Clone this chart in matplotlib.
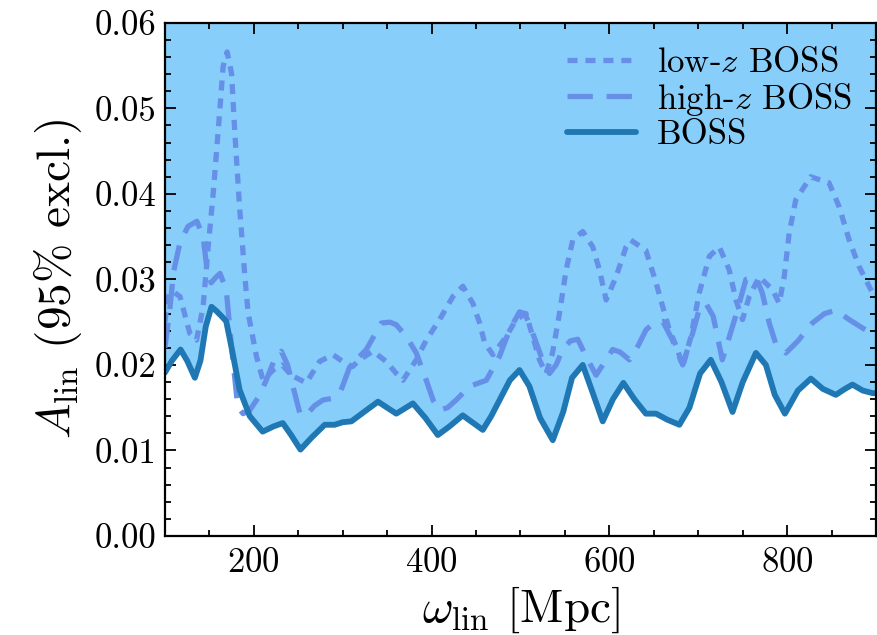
import matplotlib
matplotlib.use("Agg")
import matplotlib.pyplot as plt
from matplotlib.ticker import MultipleLocator

plt.rcParams['font.family'] = 'serif'
plt.rcParams['font.serif'] = ['cmr10']
plt.rcParams['mathtext.fontset'] = 'cm'
plt.rcParams['axes.unicode_minus'] = False
plt.rcParams['axes.formatter.use_mathtext'] = True

# BOSS (solid)
boss_x = [100, 108, 117.6, 125, 133.7, 140, 146, 152.4, 158, 163.7, 169, 176, 184, 195.5, 210, 222,
          232.6, 242, 252.5, 265, 279.8, 291, 300, 309.8, 326.6, 339.7, 350, 360.3, 379, 393, 407,
          420, 435, 457.6, 467, 476, 488, 498.9, 510, 522, 536.3, 548, 558, 570, 581, 592.5, 604,
          615.7, 628, 641, 652.5, 665, 678.7, 690, 702, 714, 726, 738.5, 750, 764.8, 776, 786,
          797.4, 812, 826.6, 840, 854.7, 865, 873.4, 885, 896, 900]
boss_y = [0.0191, 0.0205, 0.0218, 0.0205, 0.0185, 0.0205, 0.0245, 0.0268, 0.0263, 0.0257, 0.0251,
          0.0215, 0.0171, 0.0140, 0.0122, 0.0128, 0.0132, 0.0118, 0.0101, 0.0115, 0.0130, 0.0130,
          0.0133, 0.0134, 0.0147, 0.0157, 0.0150, 0.0143, 0.0155, 0.0138, 0.0118, 0.0128, 0.0141,
          0.0124, 0.0140, 0.0158, 0.0182, 0.0194, 0.0175, 0.0138, 0.0112, 0.0145, 0.0185, 0.0200,
          0.0168, 0.0134, 0.0160, 0.0179, 0.0160, 0.0143, 0.0143, 0.0136, 0.0130, 0.0150, 0.0190,
          0.0206, 0.0180, 0.0145, 0.0180, 0.0214, 0.0200, 0.0165, 0.0143, 0.0170, 0.0184, 0.0172,
          0.0165, 0.0172, 0.0177, 0.0170, 0.0167, 0.0167]

# high-z BOSS (dashed)
highz_x = [100, 105, 110, 117, 126, 136, 143, 147, 152, 157, 162, 169, 175, 182, 188, 195.5, 205,
           214, 222, 231, 238, 244, 251.7, 258, 268, 277.9, 289, 298, 308, 326.6, 343.5, 353, 360.3,
           371.6, 382.8, 394, 402, 409, 418, 427.7, 442.7, 461.5, 476.4, 487.6, 498.9, 505, 513.8,
           523.2, 532.6, 540, 547.5, 556, 564.4, 573.7, 585, 596.3, 603.7, 612, 622.5, 632, 641.2,
           651, 659.9, 671, 682.4, 693.6, 701, 708.5, 716.7, 727, 742, 753.6, 764.8, 772, 779.8,
           787, 798.5, 812, 828.3, 842, 854.7, 869.7, 888, 900]
highz_y = [0.0220, 0.0260, 0.0310, 0.0343, 0.0362, 0.0368, 0.0350, 0.0315, 0.0296, 0.0302, 0.0307,
           0.0288, 0.0221, 0.0151, 0.0143, 0.0147, 0.0162, 0.0182, 0.0203, 0.0216, 0.0200, 0.0175,
           0.0144, 0.0140, 0.0152, 0.0159, 0.0161, 0.0170, 0.0198, 0.0218, 0.0249, 0.0250, 0.0247,
           0.0233, 0.0214, 0.0182, 0.0158, 0.0147, 0.0150, 0.0159, 0.0175, 0.0182, 0.0210, 0.0241,
           0.0262, 0.0260, 0.0237, 0.0210, 0.0190, 0.0200, 0.0218, 0.0228, 0.0230, 0.0210, 0.0188,
           0.0206, 0.0218, 0.0215, 0.0206, 0.0222, 0.0241, 0.0250, 0.0251, 0.0229, 0.0200, 0.0237,
           0.0265, 0.0272, 0.0257, 0.0206, 0.0257, 0.0300, 0.0303, 0.0284, 0.0249, 0.0225, 0.0214,
           0.0228, 0.0249, 0.0260, 0.0264, 0.0253, 0.0241, 0.0239]

# low-z BOSS (dotted)
lowz_x = [100, 104, 110, 117, 128, 135.6, 143, 148.7, 154.3, 161.8, 165.5, 170, 175, 178.7, 184, 190,
          193.6, 203, 210.4, 221.7, 232, 242, 259, 274, 289, 300, 311, 319, 334, 349, 360.3, 367.8,
          382.8, 394, 409, 424, 435.2, 446.4, 454, 459.6, 468.9, 483.9, 495, 506.2, 513.8, 521.3,
          528.8, 536, 543.8, 551.3, 558.8, 570, 581.3, 588.8, 596.3, 607.5, 618.7, 624, 641, 652.5,
          660, 667.4, 676.8, 682.4, 691.7, 701, 712.4, 723.6, 734.8, 742.3, 749.7, 757.3, 768.5,
          783.5, 791, 796.6, 802.2, 809.6, 826.4, 847, 858.4, 869.7, 880.9, 896, 900]
lowz_y = [0.0250, 0.0284, 0.0285, 0.0280, 0.0237, 0.0229, 0.0268, 0.0338, 0.0400, 0.0498, 0.0549,
          0.0566, 0.0541, 0.0471, 0.0385, 0.0303, 0.0261, 0.0210, 0.0182, 0.0194, 0.0200, 0.0188,
          0.0179, 0.0204, 0.0212, 0.0204, 0.0198, 0.0206, 0.0216, 0.0204, 0.0190, 0.0182, 0.0206,
          0.0229, 0.0253, 0.0280, 0.0292, 0.0272, 0.0249, 0.0226, 0.0212, 0.0233, 0.0253, 0.0260,
          0.0233, 0.0206, 0.0190, 0.0214, 0.0260, 0.0311, 0.0346, 0.0356, 0.0338, 0.0311, 0.0276,
          0.0303, 0.0338, 0.0346, 0.0334, 0.0296, 0.0268, 0.0241, 0.0218, 0.0198, 0.0233, 0.0284,
          0.0327, 0.0338, 0.0311, 0.0276, 0.0253, 0.0280, 0.0303, 0.0288, 0.0272, 0.0303, 0.0354,
          0.0393, 0.0420, 0.0413, 0.0385, 0.0346, 0.0315, 0.0284, 0.0280]

fig = plt.figure(figsize=(8.77, 6.35), dpi=100)
ax = fig.add_axes([0.188, 0.156, 0.811, 0.808])

ax.fill_between(boss_x, boss_y, 1.0, color='#87CEFA', lw=0, zorder=1)

lc = '#6690e8'
ax.plot(lowz_x, lowz_y, color=lc, lw=3.8, dashes=(1.9, 1.5), label=r'low-$z$ BOSS',
        zorder=3, dash_joinstyle='round')
ax.plot(highz_x, highz_y, color=lc, lw=3.8, dashes=(4.8, 2.6), label=r'high-$z$ BOSS',
        zorder=3, dash_joinstyle='round')
ax.plot(boss_x, boss_y, color='#1f77b4', lw=4.2, label='BOSS', zorder=4,
        solid_joinstyle='round', solid_capstyle='round')

ax.set_xlim(100, 900)
ax.set_ylim(0, 0.06)
ax.xaxis.set_major_locator(MultipleLocator(200))
ax.xaxis.set_minor_locator(MultipleLocator(50))
ax.yaxis.set_major_locator(MultipleLocator(0.01))
ax.yaxis.set_minor_locator(MultipleLocator(0.002))
ax.yaxis.set_major_formatter(matplotlib.ticker.FormatStrFormatter('%.2f'))

ax.tick_params(which='both', direction='in', top=True, right=True, labelsize=25, width=1.3)
ax.tick_params(which='major', length=8)
ax.tick_params(which='minor', length=4.5)
ax.tick_params(axis='y', pad=6)
ax.tick_params(axis='x', pad=8)
for s in ax.spines.values():
    s.set_linewidth(1.6)
    s.set_zorder(6)

ax.set_xlabel(r'$\omega_{\rm lin}$ [Mpc]', fontsize=34, labelpad=4)
ax.set_ylabel(r'$A_{\rm lin}$ (95% excl.)', fontsize=34, labelpad=8)

ax.legend(loc='upper right', frameon=False, fontsize=25, handlelength=2.0,
          handletextpad=0.6, labelspacing=0.05, borderaxespad=0.3)

fig.savefig('out.png', dpi=100)
